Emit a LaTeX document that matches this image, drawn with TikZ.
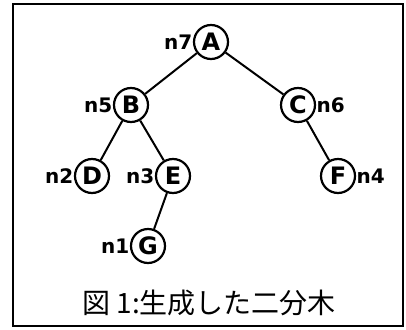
\documentclass[tikz,border=0pt]{standalone}
\usepackage{fontspec}
\setmainfont{DejaVu Sans}
\newfontfamily\cjkfont{Noto Sans CJK JP}
\begin{document}
\begin{tikzpicture}[x=1pt,y=-1pt,
  treenode/.style={circle,draw,line width=2.2pt,minimum size=34pt,inner sep=0pt,
    font=\fontsize{24}{28}\selectfont\bfseries},
  nlabel/.style={inner sep=0.3pt,font=\fontsize{20}{24}\selectfont\bfseries},
  edge/.style={line width=2pt}]
  \useasboundingbox (0,0) rectangle (406,329);
  % outer frame
  \draw[line width=2.2pt] (13,4) rectangle (403,326);
  % tree nodes
  \node[treenode,label={[nlabel]left:n7}]  (A) at (211,42)  {A};
  \node[treenode,label={[nlabel]left:n5}]  (B) at (131,105) {B};
  \node[treenode,label={[nlabel]right:n6}] (C) at (298,105) {C};
  \node[treenode,label={[nlabel]left:n2}]  (D) at (92,176)  {D};
  \node[treenode,label={[nlabel]left:n3}]  (E) at (173,176) {E};
  \node[treenode,label={[nlabel]right:n4}] (F) at (338,176) {F};
  \node[treenode,label={[nlabel]left:n1}]  (G) at (148,246) {G};
  % edges
  \draw[edge] (A) -- (B);
  \draw[edge] (A) -- (C);
  \draw[edge] (B) -- (D);
  \draw[edge] (B) -- (E);
  \draw[edge] (C) -- (F);
  \draw[edge] (E) -- (G);
  % caption
  \node[font=\cjkfont\fontsize{28}{32}\selectfont] (cap) at (209,303) {図 1:生成した二分木};
\end{tikzpicture}
\end{document}
